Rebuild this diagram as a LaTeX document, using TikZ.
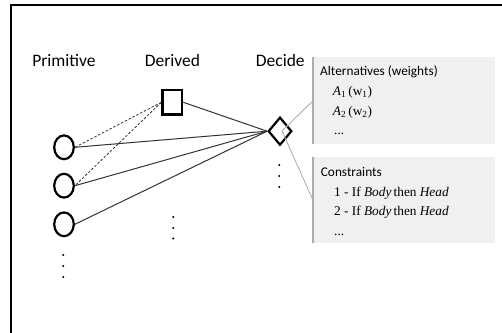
\documentclass[tikz,border=0pt]{standalone}
\usepackage{fontspec}
\usetikzlibrary{shapes.geometric}
\newfontfamily\calfont{Carlito}
\newfontfamily\serfont{Liberation Serif}
\definecolor{boxfill}{HTML}{F0F0F0}
\definecolor{boxedge}{HTML}{ABABAB}
\definecolor{linkgray}{HTML}{B0B0B0}
\definecolor{edgeblack}{HTML}{333333}
\tikzset{
  x=1pt, y=-1pt,
  header/.style={font=\calfont\fontsize{17.5}{20}\selectfont, anchor=base, inner sep=0pt},
  prim/.style={ellipse, draw, line width=2.2pt, minimum width=19.6pt, minimum height=23.8pt, inner sep=0pt},
  derv/.style={rectangle, draw, line width=2.4pt, minimum width=19.6pt, minimum height=24.2pt, inner sep=0pt},
  decd/.style={diamond, draw, line width=2.2pt, minimum width=23.6pt, minimum height=28pt, inner sep=0pt},
  link/.style={edgeblack, line width=1pt},
  dlink/.style={edgeblack, line width=0.8pt, dash pattern=on 2.5pt off 1.8pt},
  glink/.style={linkgray, line width=0.9pt},
  infobox/.style={fill=boxfill, draw=none, inner sep=0pt, minimum width=182pt, anchor=north west},
  boxtitle/.style={font=\calfont\fontsize{13.3}{15}\selectfont, anchor=base west, inner sep=0pt},
  boxline/.style={font=\serfont\fontsize{13.3}{15}\selectfont, anchor=base west, inner sep=0pt},
  vdot/.style={fill=black},
}
\begin{document}
\begin{tikzpicture}
\useasboundingbox (0,0) rectangle (502,332);
% frame
\draw[line width=2pt] (11,340) -- (11,5) -- (510,5);
% headers
\node[header] (hp) at (64,66.5) {Primitive};
\node[header] (hd) at (172.4,66.5) {Derived};
\node[header] (hc) at (280.3,66.5) {Decide};
% info boxes
\node[infobox, minimum height=87pt] (alt) at (313,57) {};
\node[infobox, minimum height=86pt] (con) at (313,157) {};
\draw[boxedge, line width=1.5pt] (alt.north west) -- (alt.south west);
\draw[boxedge, line width=1.5pt] (con.north west) -- (con.south west);
\node[boxtitle] (t1) at (320,75.5) {Alternatives (weights)};
\node[boxline] (a1) at (332.7,95.5) {\itshape A\textsubscript{\upshape 1}\,\upshape(w\textsubscript{1})};
\node[boxline] (a2) at (332.7,115.5) {\itshape A\textsubscript{\upshape 2}\,\upshape(w\textsubscript{2})};
\node[boxline] (a3) at (334,134) {...};
\node[boxtitle] (t2) at (320.7,176) {Constraints};
\node[boxline] (c1t) at (334,196) {1 - If \textit{Body}\,then \textit{Head}};
\node[boxline] (c2t) at (334,215) {2 - If \textit{Body}\,then \textit{Head}};
\node[boxline] (c3t) at (334,235) {...};
% nodes
\node[prim] (p1) at (64,147.3) {};
\node[prim] (p2) at (64,185.7) {};
\node[prim] (p3) at (64,224.3) {};
\node[derv] (sq) at (172.3,102.3) {};
\node[decd] (dc) at (280,131.2) {};
\coordinate (g) at (282,131);
% gray links to boxes
\draw[glink] (g) -- (alt.west);
\draw[glink] (g) -- (con.west);
% links
\draw[link] (p1.east) -- (dc.west);
\draw[link] (p2.east) -- (dc.west);
\draw[link] (p3.east) -- (dc.west);
\draw[link] (sq.east) -- (dc.west);
\draw[dlink] (sq.west) -- (p1.east);
\draw[dlink] (sq.west) -- (p2.east);
% vertical dots
\foreach \yy in {255,266,277} \fill[vdot] (63.3,\yy) circle (1.15pt);
\foreach \yy in {217,228,238.5} \fill[vdot] (173.3,\yy) circle (1.15pt);
\foreach \yy in {165,176,187} \fill[vdot] (279.3,\yy) circle (1.15pt);
\end{tikzpicture}
\end{document}
